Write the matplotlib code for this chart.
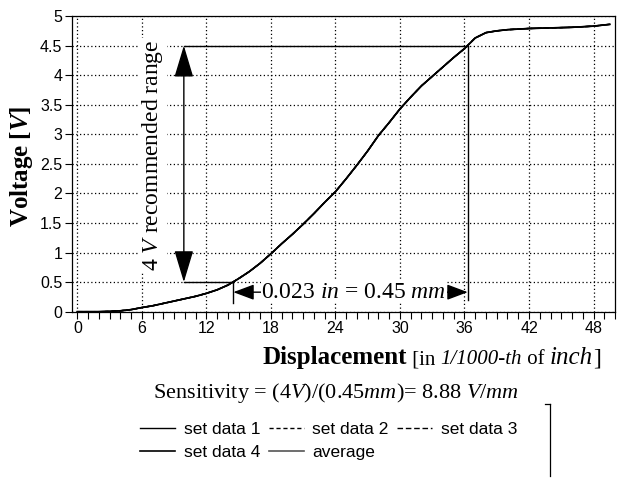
import matplotlib.pyplot as plt
from matplotlib.lines import Line2D
from matplotlib.ticker import MultipleLocator

plt.rcParams['mathtext.fontset'] = 'custom'
plt.rcParams['mathtext.rm'] = 'Liberation Serif'
plt.rcParams['mathtext.it'] = 'Liberation Serif:italic'
plt.rcParams['mathtext.bf'] = 'Liberation Serif:bold'
plt.rcParams['mathtext.bfit'] = 'Liberation Serif:italic:bold'

# Displacement in 1/1000 inch, voltage in V
displacement = [0, 1, 2, 3, 4, 5, 6, 7, 8, 9, 10, 11, 12, 13, 14, 15, 16, 17, 18,
                19, 20, 21, 22, 23, 24, 25, 26, 27, 28, 29, 30, 31, 32, 33, 34, 35,
                36, 37, 38, 39, 40, 41, 42, 44, 46, 48, 49.5]
average = [0, 0, 0, 0.005, 0.015, 0.035, 0.07, 0.1, 0.14, 0.18, 0.22, 0.26, 0.31,
           0.37, 0.45, 0.56, 0.68, 0.82, 0.98, 1.15, 1.31, 1.48, 1.66, 1.85, 2.03,
           2.25, 2.48, 2.72, 2.98, 3.2, 3.43, 3.63, 3.82, 3.98, 4.14, 4.3, 4.45,
           4.63, 4.72, 4.75, 4.77, 4.78, 4.79, 4.8, 4.81, 4.83, 4.86]
# the four measured sets lie on top of the average at this scale
set_data_1 = list(average)
set_data_2 = list(average)
set_data_3 = list(average)
set_data_4 = list(average)

# recommended range markers
v_low, v_high = 0.5, 4.5
x_low, x_high = 14.5, 36.3
x_vert_arrow = 9.9
y_horiz_arrow = 0.33

fig = plt.figure(figsize=(6.23, 4.83), dpi=100)
ax = fig.add_axes([0.1156, 0.3547, 0.8716, 0.612])

h5, = ax.plot(displacement, average, color='#555555', lw=1.2, ls='-', label='average')
h1, = ax.plot(displacement, set_data_1, color='black', lw=1.0, ls='-', label='set data 1')
h2, = ax.plot(displacement, set_data_2, color='black', lw=1.0, ls=(0, (3, 2)), label='set data 2')
h3, = ax.plot(displacement, set_data_3, color='black', lw=1.0, ls=(0, (4, 2)), label='set data 3')
h4, = ax.plot(displacement, set_data_4, color='black', lw=1.2, ls='-', label='set data 4')

ax.set_xlim(-0.5, 50)
ax.set_ylim(0, 5)
ax.xaxis.set_major_locator(MultipleLocator(6))
ax.xaxis.set_minor_locator(MultipleLocator(1))
ax.set_yticks([0, 0.5, 1, 1.5, 2, 2.5, 3, 3.5, 4, 4.5, 5])
ax.set_yticklabels(['0', '0.5', '1', '1.5', '2', '2.5', '3', '3.5', '4', '4.5', '5'])
ax.tick_params(which='both', direction='out', length=5, width=0.8,
               labelsize=11.5, pad=2)
for lab in ax.get_xticklabels() + ax.get_yticklabels():
    lab.set_family('Liberation Sans')
ax.grid(True, which='major', color='black', ls=(0, (1, 2)), lw=0.9)
for sp in ax.spines.values():
    sp.set_linewidth(0.9)

# guide lines
ax.plot([x_vert_arrow, x_high], [v_high, v_high], color='black', lw=1.0)
ax.plot([x_vert_arrow, x_low], [v_low, v_low], color='black', lw=1.0)
ax.plot([x_high, x_high], [v_high, 0.2], color='black', lw=1.0)
ax.plot([x_low, x_low], [v_low, 0.15], color='black', lw=1.0)

# vertical range arrow
ax.annotate('', xy=(x_vert_arrow, v_high), xytext=(x_vert_arrow, v_low),
            arrowprops=dict(arrowstyle='<|-|>,head_length=1.0,head_width=0.3',
                            color='black', lw=1.0, shrinkA=0, shrinkB=0,
                            mutation_scale=20))
ax.text(7.0, 2.64, r'4 $\mathit{V}$ recommended range', rotation=90,
        ha='center', va='center', fontsize=17, family='Liberation Serif',
        bbox=dict(facecolor='white', edgecolor='none', pad=1))

# horizontal displacement arrow
ax.annotate('', xy=(x_low, y_horiz_arrow), xytext=(x_high, y_horiz_arrow),
            arrowprops=dict(arrowstyle='<|-|>,head_length=0.8,head_width=0.3',
                            color='black', lw=1.0, shrinkA=0, shrinkB=0,
                            mutation_scale=16))
ax.text((x_low + x_high) / 2 + 0.3, y_horiz_arrow, r'0.023 $\mathit{in}$ = 0.45 $\mathit{mm}$',
        ha='center', va='center', fontsize=17, family='Liberation Serif',
        bbox=dict(facecolor='white', edgecolor='none', pad=0.5))

# axis labels
fig.text(0.035, 0.656, r'$\mathbf{Voltage\ [}\mathbfit{V}\mathbf{]}$', rotation=90,
         ha='center', va='center', fontsize=18)
xl = fig.text(407 / 623, 1 - 364 / 483, 'Displacement', ha='right', va='baseline',
              fontsize=18, family='Liberation Serif', weight='bold')
# rest of the x label, each piece placed right after the previous one
pieces = [(' [in ', 'normal', 15), ('1/1000-th', 'italic', 15),
          (' of ', 'normal', 15), ('inch', 'italic', 18), (']', 'normal', 17)]
prev = xl
for txt, style, size in pieces:
    prev = fig.add_artist(plt.Annotation(
        txt, xy=(1, 0), xycoords=prev, xytext=(0, 0), textcoords='offset points',
        ha='left', va='bottom', fontsize=size, style=style,
        family='Liberation Serif', annotation_clip=False))

fig.text(0.54, 1 - 393 / 483,
         r'Sensitivity = (4$\mathit{V}$)/(0.45$\mathit{mm}$)= 8.88 $\mathit{V/mm}$',
         ha='center', va='center', fontsize=16, family='Liberation Serif')

# legend, filled row by row
leg = fig.legend([h1, h4, h2, h5, h3],
                 ['set data 1', 'set data 4', 'set data 2', 'average', 'set data 3'],
                 ncol=3, loc='upper left', bbox_to_anchor=(0.2, 0.158),
                 frameon=False, handlelength=2.0, handletextpad=0.5,
                 columnspacing=0.5, labelspacing=0.45,
                 prop={'family': 'Liberation Sans', 'size': 12.5})
fig.add_artist(Line2D([550 / 623, 550 / 623], [1 - 404 / 483, 1 - 476 / 483],
                      color='black', lw=0.9, transform=fig.transFigure))
fig.add_artist(Line2D([545 / 623, 550 / 623], [1 - 404 / 483, 1 - 404 / 483],
                      color='black', lw=0.9, transform=fig.transFigure))

plt.savefig('out.png', dpi=100)
